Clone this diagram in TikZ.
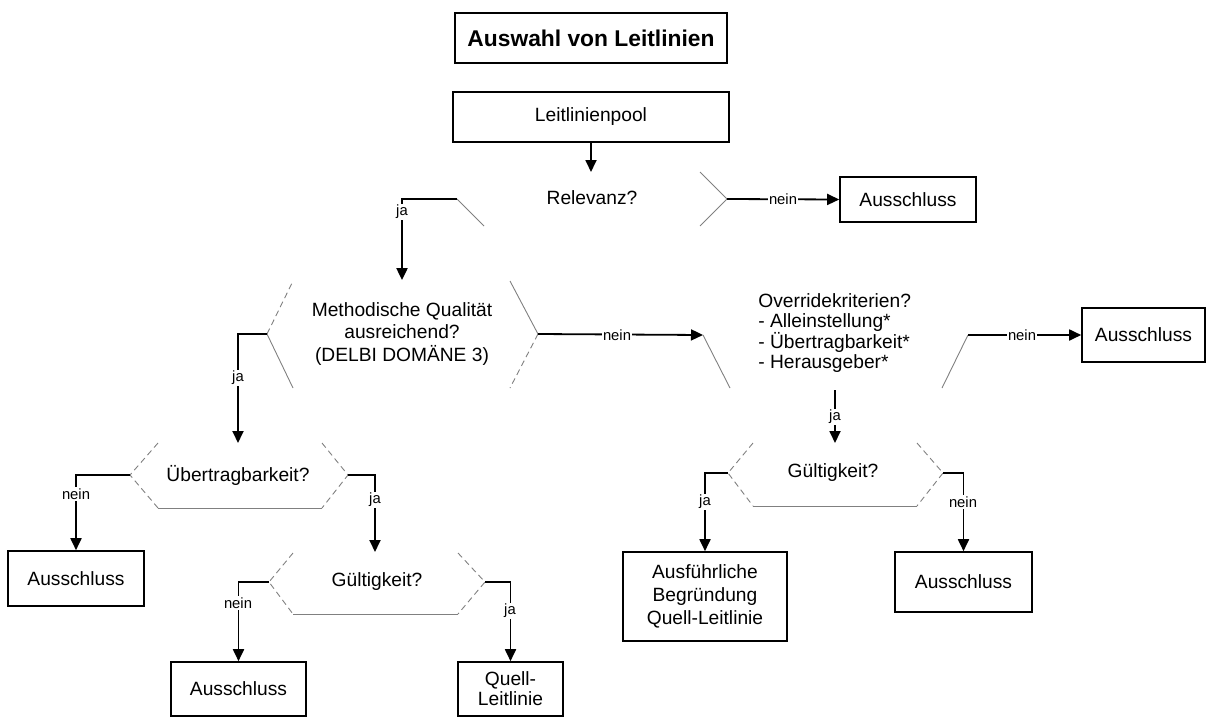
\documentclass[tikz,border=0pt]{standalone}
\usepackage{fontspec}
\setmainfont{Liberation Sans}
\usetikzlibrary{arrows.meta}
\begin{document}
\begin{tikzpicture}[x=0.5pt,y=-0.5pt,
  box/.style={draw=black, line width=0.8pt, inner sep=0pt, align=center, font=\fontsize{9.6}{11.5}\selectfont},
  conn/.style={draw=black, line width=0.9pt},
  arr/.style={conn, -{Triangle[length=6pt,width=5.5pt]}},
  hexedge/.style={draw=gray, line width=0.45pt},
  hexdash/.style={hexedge, dash pattern=on 3pt off 2pt},
  lbl/.style={fill=white, inner sep=0.6pt, font=\fontsize{7.4}{8}\selectfont},
  txt/.style={inner sep=0pt, align=center, font=\fontsize{9.6}{11.2}\selectfont}]
\useasboundingbox (0,0) rectangle (1206,718);

% boxes
\node[box, font=\bfseries\fontsize{11.4}{13}\selectfont, minimum width=136pt, minimum height=25pt] (title) at (591,38) {Auswahl von Leitlinien};
\node[box, minimum width=138pt, minimum height=25pt] (pool) at (591,117) {Leitlinienpool};
\node[box, minimum width=68pt, minimum height=22.5pt] (aus1) at (908,199.5) {Ausschluss};
\node[box, minimum width=61.5pt, minimum height=27pt] (aus2) at (1143.5,335) {Ausschluss};
\node[box, minimum width=68pt, minimum height=27.5pt] (aus3) at (76,578.5) {Ausschluss};
\node[box, minimum width=82pt, minimum height=44.5pt] (ausf) at (705,596.5) {Ausführliche\\Begründung\\Quell-Leitlinie};
\node[box, minimum width=68.5pt, minimum height=30pt] (aus4) at (963.5,582) {Ausschluss};
\node[box, minimum width=67.5pt, minimum height=27pt] (aus5) at (238.5,689) {Ausschluss};
\node[box, minimum width=52.5pt, minimum height=27pt, font=\fontsize{9.6}{10}\selectfont] (quell) at (510.5,689) {Quell-\\Leitlinie};

% decision texts
\node[txt] (relT) at (592,198) {Relevanz?};
\node[txt, font=\fontsize{9.6}{11.25}\selectfont] (mqT) at (402,334) {Methodische Qualität\\ausreichend?\\(DELBI DOMÄNE 3)};
\node[txt, align=left, anchor=west, font=\fontsize{9.6}{10.2}\selectfont] (ovT) at (758,333) {Overridekriterien?\\- Alleinstellung*\\- Übertragbarkeit*\\- Herausgeber*};
\node[txt] (grT) at (833,473) {Gültigkeit?};
\node[txt] (ubT) at (238,475) {Übertragbarkeit?};
\node[txt] (glT) at (377,582) {Gültigkeit?};

% hexagon vertices
\coordinate (rL) at (457,199); \coordinate (rR) at (727,199);
\coordinate (mL) at (267,334); \coordinate (mR) at (538,334);
\coordinate (oL) at (703,335); \coordinate (oR) at (968,335);
\coordinate (gL) at (728,473); \coordinate (gR) at (943,473);
\coordinate (uL) at (130,475); \coordinate (uR) at (348,475);
\coordinate (hL) at (269,582); \coordinate (hR) at (485,582);

% hexagon edges
\draw[hexedge] (rL) -- (484,226);
\draw[hexedge] (700,172) -- (rR) -- (700,226);
\draw[hexdash] (mL) -- (293,281);
\draw[hexedge] (mL) -- (293,388);
\draw[hexedge] (510,281) -- (mR);
\draw[hexdash] (mR) -- (510,388);
\draw[hexedge] (oL) -- (730,388);
\draw[hexedge] (942,388) -- (oR);
\draw[hexdash] (753,443) -- (gL) -- (753,506);
\draw[hexedge] (753,506) -- (917,506);
\draw[hexdash] (917,443) -- (gR) -- (917,506);
\draw[hexdash] (158,443) -- (uL) -- (158,508);
\draw[hexedge] (158,508) -- (322,508);
\draw[hexdash] (322,443) -- (uR) -- (322,508);
\draw[hexdash] (293,553) -- (hL) -- (293,614);
\draw[hexedge] (293,614) -- (458,614);
\draw[hexdash] (458,553) -- (hR) -- (458,614);

% connector end points
\coordinate (rTop) at (591,172);
\coordinate (mTop) at (402,280);
\coordinate (uTop) at (238,443);
\coordinate (oBot) at (835,390);
\coordinate (gTop) at (835,443);
\coordinate (hTop) at (375,552);

% connectors
\draw[arr] (pool.south) -- (rTop);
\draw[arr, line width=1.2pt] (rL) -| (mTop);
\draw[arr] (rR) -- (aus1.west);
\draw[arr] (mL) -| (uTop);
\draw[arr] (mR) -- (oL);
\draw[arr] (oR) -- (aus2.west);
\draw[arr] (oBot) -- (gTop);
\draw[arr] (gL) -| (ausf.north);
\draw[arr] (gR) -| (aus4.north);
\draw[arr] (uL) -| (aus3.north);
\draw[arr] (uR) -| (hTop);
\draw[arr] (hL) -| (aus5.north);
\draw[arr] (hR) -| (quell.north);

% labels
\node[lbl] (l1) at (402,212) {ja};
\node[lbl] (l2) at (783,199) {nein};
\node[lbl] (l3) at (238,378) {ja};
\node[lbl] (l4) at (617,335) {nein};
\node[lbl] (l5) at (1022,335) {nein};
\node[lbl] (l6) at (835,417) {ja};
\node[lbl] (l7) at (705,502) {ja};
\node[lbl] (l8) at (963,502) {nein};
\node[lbl] (l9) at (76,494) {nein};
\node[lbl] (l10) at (375,500) {ja};
\node[lbl] (l11) at (238,603) {nein};
\node[lbl] (l12) at (510,611) {ja};
\end{tikzpicture}
\end{document}
